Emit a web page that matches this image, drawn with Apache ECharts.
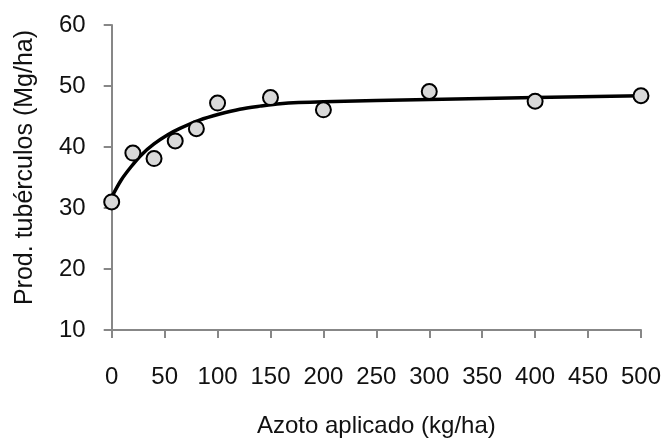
<!DOCTYPE html>
<html>
<head>
<meta charset="utf-8">
<script src="https://cdn.jsdelivr.net/npm/echarts@6/dist/echarts.min.js"></script>
<style>html,body{margin:0;padding:0;background:#fff}#c{width:664px;height:443px}</style>
</head>
<body>
<div id="c"></div>
<script>
// Observed data (N applied kg/ha vs tuber yield Mg/ha)
const obsX = [0, 20, 40, 60, 80, 100, 150, 200, 300, 400, 500];
const obsY = [31, 39, 38.1, 41, 43, 47.2, 48.1, 46.1, 49.1, 47.5, 48.4];
// Fitted curve
const fitX = [0, 9, 18.5, 28, 40, 53, 64, 83, 102, 121, 140, 159, 200, 300, 400, 500];
const fitY = [31.8, 34.6, 36.8, 38.7, 40.5, 42.0, 43.0, 44.4, 45.4, 46.2, 46.7, 47.1, 47.4, 47.8, 48.1, 48.4];
const xTicks = [0, 50, 100, 150, 200, 250, 300, 350, 400, 450, 500];
const yTicks = [10, 20, 30, 40, 50, 60];

const font = '"Liberation Sans", Arial, sans-serif';
const axisGray = '#878787';
const chart = echarts.init(document.getElementById('c'), null, {renderer: 'canvas'});
chart.setOption({
  animation: false,
  backgroundColor: '#fff',
  grid: {left: 111.7, right: 22.3, top: 25, bottom: 113, containLabel: false},
  xAxis: {
    type: 'value', min: xTicks[0], max: xTicks[xTicks.length - 1], interval: 50,
    name: 'Azoto aplicado (kg/ha)', nameLocation: 'middle', nameGap: 84,
    nameTextStyle: {fontFamily: font, fontSize: 24, color: '#111'},
    axisLine: {show: true, lineStyle: {color: axisGray, width: 2}},
    axisTick: {show: true, length: 8, inside: false, lineStyle: {color: axisGray, width: 2}},
    axisLabel: {fontFamily: font, fontSize: 24, color: '#111', margin: 35},
    splitLine: {show: false}
  },
  yAxis: {
    type: 'value', min: yTicks[0], max: yTicks[yTicks.length - 1], interval: 10,
    name: 'Prod. tubérculos (Mg/ha)', nameLocation: 'middle', nameGap: 74,
    nameTextStyle: {fontFamily: font, fontSize: 25, color: '#111', padding: [0, 0, 0, 20]},
    axisLine: {show: true, lineStyle: {color: axisGray, width: 2}},
    axisTick: {show: true, length: 8, inside: false, lineStyle: {color: axisGray, width: 2}},
    axisLabel: {fontFamily: font, fontSize: 24, color: '#111', margin: 26},
    splitLine: {show: false}
  },
  series: [
    {
      type: 'line', smooth: 0.3, symbol: 'none', z: 2,
      data: fitX.map((x, i) => [x, fitY[i]]),
      lineStyle: {color: '#000', width: 3.5}
    },
    {
      type: 'scatter', symbol: 'circle', symbolSize: 15, z: 3,
      data: obsX.map((x, i) => [x, obsY[i]]),
      itemStyle: {color: '#d9d9d9', borderColor: '#000', borderWidth: 2, opacity: 1}
    }
  ]
});
</script>
</body>
</html>
